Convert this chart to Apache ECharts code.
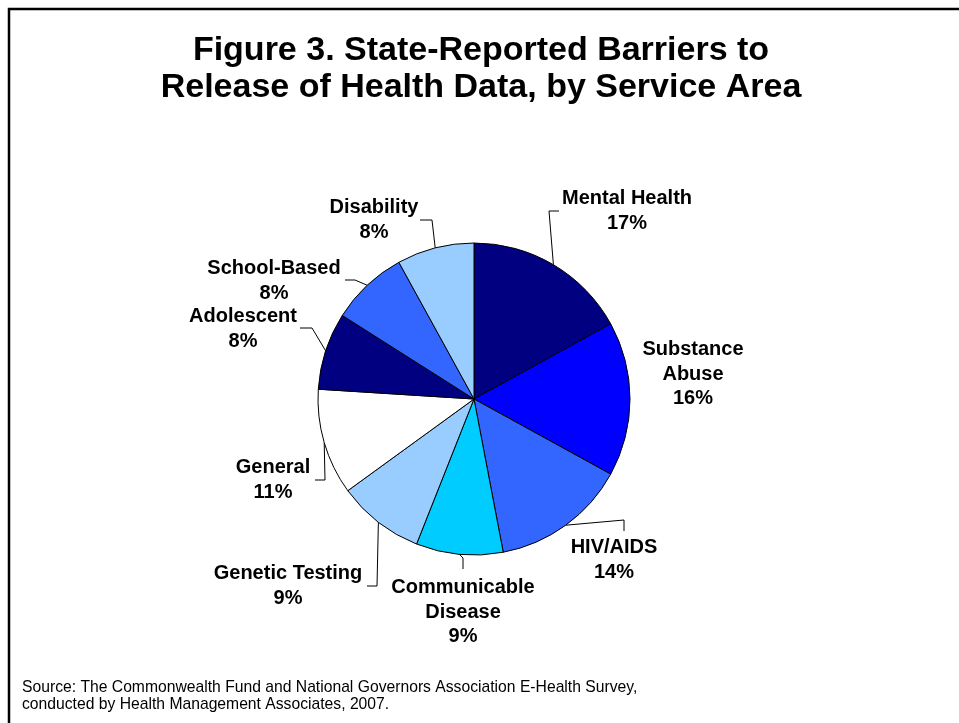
<!DOCTYPE html>
<html>
<head>
<meta charset="utf-8">
<script src="https://cdn.jsdelivr.net/npm/echarts@6/dist/echarts.min.js"></script>
<style>
  html, body { margin: 0; padding: 0; background: #fff; }
  #chart { width: 959px; height: 723px; }
</style>
</head>
<body>
<div id="chart"></div>
<script>
// Service areas and share of state-reported barriers (%)
const categories = [
  'Mental Health', 'Substance Abuse', 'HIV/AIDS', 'Communicable Disease',
  'Genetic Testing', 'General', 'Adolescent', 'School-Based', 'Disability'
];
const shares = [17, 16, 14, 9, 9, 11, 8, 8, 8];
const sliceColors = [
  '#000080', '#0000FF', '#3366FF', '#00CCFF',
  '#99CCFF', '#FFFFFF', '#000080', '#3366FF', '#99CCFF'
];

// Two-line label wording for the longer names
const labelWrap = {
  'Substance Abuse': 'Substance\nAbuse',
  'Communicable Disease': 'Communicable\nDisease'
};

// Label placement: label centre, then elbow and end of the leader line
// (null = no leader line)
const labelPlacement = [
  { at: [627, 211], line: [[549, 211], [559, 211]] },
  { at: [693, 374], line: null },
  { at: [614, 560], line: [[624, 520], [624, 531]] },
  { at: [463, 612], line: [[463, 558], [463, 569]] },
  { at: [288, 586], line: [[377, 586], [367, 586]] },
  { at: [273, 480], line: [[325, 480], [315, 480]] },
  { at: [243, 329], line: [[312, 328], [300, 328]] },
  { at: [274, 281], line: [[355, 280], [345, 280]] },
  { at: [374, 220], line: [[432, 220], [420, 220]] }
];

const FONT = '"Liberation Sans", Arial, Helvetica, sans-serif';

const chart = echarts.init(document.getElementById('chart'), null, { renderer: 'canvas' });

chart.setOption({
  animation: false,
  backgroundColor: '#ffffff',
  title: {
    text: 'Figure 3. State-Reported Barriers to\nRelease of Health Data, by Service Area',
    left: 476,
    top: 27,
    textAlign: 'center',
    textStyle: {
      fontFamily: FONT,
      fontWeight: 'bold',
      fontSize: 34,
      lineHeight: 37,
      color: '#000'
    }
  },
  graphic: [
    {
      type: 'rect',
      shape: { x: 9, y: 9, width: 1200, height: 1200 },
      style: { fill: 'none', stroke: '#000', lineWidth: 2.5 },
      silent: true
    },
    {
      type: 'text',
      left: 22,
      top: 679,
      style: {
        text: 'Source: The Commonwealth Fund and National Governors Association E-Health Survey,\nconducted by Health Management Associates, 2007.',
        fontFamily: FONT,
        fontSize: 15.7,
        lineHeight: 17,
        fill: '#000'
      }
    }
  ],
  series: [{
    type: 'pie',
    center: [474, 399],
    radius: 156,
    startAngle: 90,
    clockwise: true,
    avoidLabelOverlap: false,
    itemStyle: { borderColor: '#000', borderWidth: 1 },
    label: {
      show: true,
      position: 'outside',
      fontFamily: FONT,
      fontWeight: 'bold',
      fontSize: 20,
      lineHeight: 24.5,
      color: '#000',
      align: 'center',
      formatter: p => (labelWrap[p.name] || p.name) + '\n' + p.value + '%'
    },
    labelLine: {
      show: true,
      length: 10,
      length2: 10,
      lineStyle: { color: '#000', width: 1 }
    },
    labelLayout: function (params) {
      const place = labelPlacement[params.dataIndex];
      const out = {
        x: place.at[0],
        y: place.at[1],
        align: 'center',
        verticalAlign: 'middle'
      };
      if (place.line && params.labelLinePoints) {
        out.labelLinePoints = [params.labelLinePoints[0], place.line[0], place.line[1]];
      }
      return out;
    },
    data: categories.map((name, i) => ({
      name: name,
      value: shares[i],
      itemStyle: { color: sliceColors[i] },
      labelLine: { show: labelPlacement[i].line !== null }
    }))
  }]
});
</script>
</body>
</html>
